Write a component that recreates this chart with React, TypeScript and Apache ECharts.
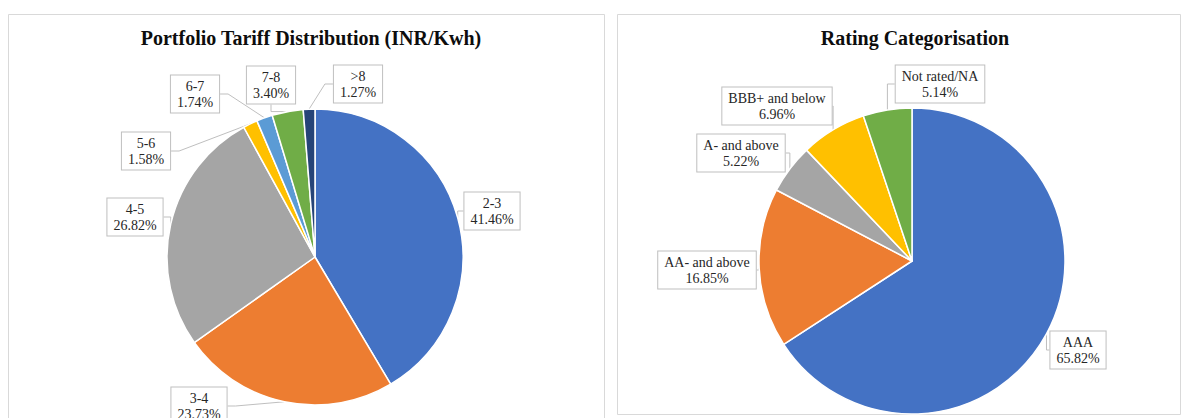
import React, { useEffect, useRef } from "react";
import * as echarts from "echarts";

// ---- Data ----
const tariffCategories = ["2-3", "3-4", "4-5", "5-6", "6-7", "7-8", ">8"];
const tariffShares = [41.46, 23.73, 26.82, 1.58, 1.74, 3.4, 1.27];
const tariffColors = ["#4472C4", "#ED7D31", "#A5A5A5", "#FFC000", "#5B9BD5", "#70AD47", "#264478"];

const ratingCategories = ["AAA", "AA- and above", "A- and above", "BBB+ and below", "Not rated/NA"];
const ratingShares = [65.82, 16.85, 5.22, 6.96, 5.14];
const ratingColors = ["#4472C4", "#ED7D31", "#A5A5A5", "#FFC000", "#70AD47"];

const titles = ["Portfolio Tariff Distribution (INR/Kwh)", "Rating Categorisation"];

// ---- Layout (callout box centres, px) ----
const tariffLabelPos: number[][] = [
  [492, 211],
  [199, 406],
  [135, 217],
  [146, 151],
  [195, 94],
  [271, 85],
  [358, 84],
];
const ratingLabelPos: number[][] = [
  [1078, 350],
  [707, 270],
  [741, 153],
  [777, 106],
  [940, 84],
];

const FONT = "'Liberation Serif', 'Times New Roman', serif";

export default function App() {
  const ref = useRef<HTMLDivElement>(null);

  useEffect(() => {
    if (!ref.current) return;
    const chart = echarts.init(ref.current, undefined, { renderer: "svg" });

    const labelStyle = {
      show: true,
      position: "outside",
      formatter: (p: any) => `${p.name}\n${Number(p.value).toFixed(2)}%`,
      fontFamily: FONT,
      fontSize: 14,
      lineHeight: 16,
      color: "#262626",
      backgroundColor: "#ffffff",
      borderColor: "#bfbfbf",
      borderWidth: 1,
      padding: [3, 6, 2, 6],
      align: "center",
    };
    const labelLine = {
      show: true,
      length: 8,
      length2: 8,
      lineStyle: { color: "#bfbfbf", width: 1 },
    };

    const positions = [tariffLabelPos, ratingLabelPos];
    const titleStyle = { fontFamily: FONT, fontSize: 20, fontWeight: "bold", color: "#0d0d0d" };

    chart.setOption({
      animation: false,
      title: [
        { text: titles[0], left: 306, top: 23, textAlign: "center", textStyle: titleStyle },
        { text: titles[1], left: 910, top: 23, textAlign: "center", textStyle: titleStyle },
      ],
      graphic: [
        {
          type: "rect",
          shape: { x: 8.5, y: 14.5, width: 596, height: 420 },
          style: { fill: "none", stroke: "#d9d9d9", lineWidth: 1 },
          z: -1,
        },
        {
          type: "rect",
          shape: { x: 617.5, y: 14.5, width: 563, height: 400 },
          style: { fill: "none", stroke: "#d9d9d9", lineWidth: 1 },
          z: -1,
        },
      ],
      series: [
        {
          type: "pie",
          center: [315, 257],
          radius: 148,
          startAngle: 90,
          clockwise: true,
          avoidLabelOverlap: false,
          itemStyle: { borderColor: "#ffffff", borderWidth: 1.5 },
          data: tariffCategories.map((name, i) => ({
            name,
            value: tariffShares[i],
            itemStyle: { color: tariffColors[i] },
          })),
          label: labelStyle,
          labelLine,
          labelLayout: (params: any) => {
            const p = positions[0][params.dataIndex];
            return { x: p[0], y: p[1], align: "center", verticalAlign: "middle" };
          },
        },
        {
          type: "pie",
          center: [912, 261],
          radius: 153,
          startAngle: 90,
          clockwise: true,
          avoidLabelOverlap: false,
          itemStyle: { borderColor: "#ffffff", borderWidth: 1.5 },
          data: ratingCategories.map((name, i) => ({
            name,
            value: ratingShares[i],
            itemStyle: { color: ratingColors[i] },
          })),
          label: labelStyle,
          labelLine,
          labelLayout: (params: any) => {
            const p = positions[1][params.dataIndex];
            return { x: p[0], y: p[1], align: "center", verticalAlign: "middle" };
          },
        },
      ],
    });

    return () => chart.dispose();
  }, []);

  return (
    <div
      ref={ref}
      style={{ position: "absolute", left: 0, top: 0, width: 1184, height: 418, background: "#ffffff" }}
    />
  );
}
